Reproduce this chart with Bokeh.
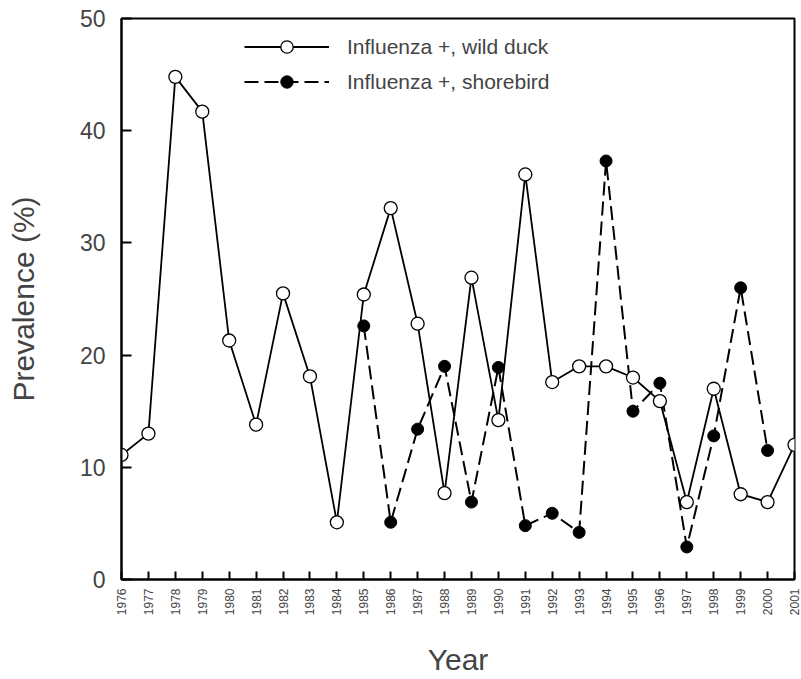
from bokeh.plotting import figure
from bokeh.models import Range1d, FixedTicker, Legend, LegendItem
from bokeh.embed import file_html
from bokeh.resources import INLINE
import math

years_duck = list(range(1976, 2002))
duck = [11.1, 13.0, 44.8, 41.7, 21.3, 13.8, 25.5, 18.1, 5.1, 25.4, 33.1, 22.8, 7.7,
        26.9, 14.2, 36.1, 17.6, 19.0, 19.0, 18.0, 15.9, 6.9, 17.0, 7.6, 6.9, 12.0]
years_shore = list(range(1985, 2001))
shore = [22.6, 5.1, 13.4, 19.0, 6.9, 18.9, 4.8, 5.9, 4.2, 37.3, 15.0, 17.5, 2.9,
         12.8, 26.0, 11.5]
x_ticks = list(range(1976, 2002))
y_ticks = [0, 10, 20, 30, 40, 50]

FONT = "Liberation Sans"

p = figure(width=801, height=679, output_backend="svg", toolbar_location=None,
           x_range=Range1d(1976, 2001), y_range=Range1d(0, 50),
           min_border_left=121, min_border_right=7, min_border_top=18, min_border_bottom=99)
p.xgrid.visible = False
p.ygrid.visible = False
p.outline_line_color = "black"
p.outline_line_width = 2
p.background_fill_color = "white"
p.border_fill_color = "white"

# axes
p.xaxis.ticker = FixedTicker(ticks=x_ticks)
p.xaxis.minor_tick_line_color = None
p.xaxis.major_tick_in = 8
p.xaxis.major_tick_out = 0
p.xaxis.major_tick_line_width = 2
p.xaxis.axis_line_width = 2
p.xaxis.major_label_orientation = math.pi / 2
p.xaxis.major_label_text_font = FONT
p.xaxis.major_label_text_font_size = "12px"
p.xaxis.major_label_standoff = 9
p.xaxis.axis_label = "Year"
p.xaxis.axis_label_text_font = FONT
p.xaxis.axis_label_text_font_size = "30px"
p.xaxis.axis_label_text_font_style = "normal"
p.xaxis.axis_label_standoff = 25

p.yaxis.ticker = FixedTicker(ticks=y_ticks)
p.yaxis.minor_tick_line_color = None
p.yaxis.major_tick_in = 10
p.yaxis.major_tick_out = 0
p.yaxis.major_tick_line_width = 2
p.yaxis.axis_line_width = 2
p.yaxis.major_label_text_font = FONT
p.yaxis.major_label_text_font_size = "23px"
p.yaxis.major_label_standoff = 16
p.yaxis.axis_label = "Prevalence (%)"
p.yaxis.axis_label_text_font = FONT
p.yaxis.axis_label_text_font_size = "30px"
p.yaxis.axis_label_text_font_style = "normal"
p.yaxis.axis_label_standoff = 37

# series
l_shore = p.line(years_shore, shore, line_color="black", line_width=2, line_dash="14 6")
l_duck = p.line(years_duck, duck, line_color="black", line_width=1.8)
s_shore = p.scatter(years_shore, shore, size=12, fill_color="black", line_color="black", line_width=1)
s_duck = p.scatter(years_duck, duck, size=13, fill_color="white", line_color="black", line_width=1.3)

legend = Legend(items=[
    LegendItem(label="Influenza +, wild duck", renderers=[l_duck, s_duck]),
    LegendItem(label="Influenza +, shorebird", renderers=[l_shore, s_shore]),
], location=(123, 482))
legend.glyph_width = 85
legend.glyph_height = 31
legend.label_standoff = 18
legend.label_text_font = FONT
legend.label_text_font_size = "21px"
legend.border_line_color = None
legend.background_fill_alpha = 0
legend.padding = 4
legend.spacing = 4
legend.margin = 0
p.add_layout(legend, "center")

open("out.html", "w").write(file_html(p, INLINE))
